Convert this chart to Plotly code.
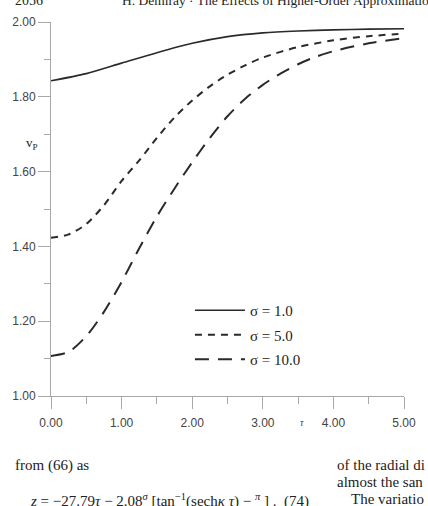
import plotly.graph_objects as go

# ---- data ----
tau_1 = [0.0, 0.5, 1.0, 1.5, 2.0, 2.5, 3.0, 3.5, 4.0, 4.5, 5.0]
vp_1 = [1.843, 1.862, 1.890, 1.918, 1.943, 1.961, 1.971, 1.976, 1.979, 1.981, 1.982]

tau_5 = [0.0, 0.25, 0.5, 0.75, 1.0, 1.25, 1.5, 1.75, 2.0, 2.25, 2.5, 2.75, 3.0, 3.5, 4.0, 4.5, 5.0]
vp_5 = [1.423, 1.432, 1.460, 1.510, 1.575, 1.630, 1.690, 1.745, 1.790, 1.828, 1.859, 1.884, 1.905,
        1.933, 1.951, 1.962, 1.969]

tau_10 = [0.0, 0.25, 0.5, 0.75, 1.0, 1.25, 1.5, 1.75, 2.0, 2.25, 2.5, 2.75, 3.0, 3.25, 3.5, 3.75,
          4.0, 4.5, 5.0]
vp_10 = [1.107, 1.118, 1.160, 1.225, 1.305, 1.395, 1.480, 1.555, 1.625, 1.690, 1.748, 1.795, 1.832,
         1.862, 1.887, 1.907, 1.922, 1.943, 1.957]

legend_names = ["σ = 1.0", "σ = 5.0", "σ = 10.0"]
x_ticks = [0, 1, 2, 3, 4, 5]
y_ticks = [1.0, 1.2, 1.4, 1.6, 1.8, 2.0]

W, H = 428, 506
L, R, T, B = 40, 12, 22, 110
PW, PH = W - L - R, H - T - B


def px(x):
    return (x - L) / PW


def py(y):
    return (H - B - y) / PH


INK = "#2a2a2a"
fig = go.Figure()
fig.add_trace(go.Scatter(x=tau_1, y=vp_1, mode="lines", name=legend_names[0], legendgroup="a",
                         line=dict(color=INK, width=1.6, shape="spline", smoothing=0.8)))
fig.add_trace(go.Scatter(x=tau_5, y=vp_5, mode="lines", name=legend_names[1], legendgroup="b",
                         line=dict(color=INK, width=2.0, dash="7px,6px", shape="spline", smoothing=0.8)))
fig.add_trace(go.Scatter(x=tau_10, y=vp_10, mode="lines", name=legend_names[2], legendgroup="c",
                         line=dict(color=INK, width=2.0, dash="14px,9px", shape="spline", smoothing=0.8)))

axis_common = dict(showgrid=False, zeroline=False, showline=True, linecolor="#a8a8a8", linewidth=1,
                   ticks="outside", tickcolor="#a8a8a8", tickwidth=1, ticklen=12,
                   ticklabeloverflow="allow",
                   tickfont=dict(family="Liberation Sans, Arial", size=12, color="#444"))

fig.update_xaxes(range=[0, 5], tickvals=x_ticks, tickformat=".2f", ticklabelstandoff=4,
                 minor=dict(dtick=0.5, ticks="outside", ticklen=7, tickcolor="#a8a8a8"),
                 **axis_common)
fig.update_yaxes(range=[1, 2], tickvals=y_ticks, tickformat=".2f",
                 minor=dict(dtick=0.1, ticks="outside", ticklen=6, tickcolor="#a8a8a8"),
                 **axis_common)

serif = "Liberation Serif, Times New Roman, serif"
ann = [
    dict(x=px(20), y=py(143), text="v<sub>P</sub>", font=dict(family=serif, size=13, color="#222")),
    dict(x=px(307), y=py(422), text="<i>τ</i>", font=dict(family=serif, size=10, color="#444")),
    dict(x=px(0), y=py(10), text="2056", xanchor="left", yanchor="bottom",
         font=dict(family=serif, size=14, color="#222")),
    dict(x=px(113), y=py(10), text="H. Demiray · The Effects of Higher-Order Approximations",
         xanchor="left", yanchor="bottom", font=dict(family=serif, size=13.5, color="#222")),
    dict(x=px(0), y=py(465), text="from (66) as", xanchor="left",
         font=dict(family=serif, size=15, color="#222")),
    dict(x=px(343), y=py(465), text="of the radial di", xanchor="left",
         font=dict(family=serif, size=15, color="#222")),
    dict(x=px(343), y=py(482), text="almost the san", xanchor="left",
         font=dict(family=serif, size=15, color="#222")),
    dict(x=px(357), y=py(499), text="The variatio", xanchor="left",
         font=dict(family=serif, size=15, color="#222")),
    dict(x=px(16), y=py(500),
         text="<i>z</i> = −27.79<i>τ</i> − 2.08<sup><i>σ</i></sup> [tan<sup>−1</sup>(sech<i>κ τ</i>) − <sup><i>π</i></sup> ] .  (74)",
         xanchor="left", font=dict(family=serif, size=15, color="#222")),
]
for a in ann:
    a.setdefault("xanchor", "center")
    a.setdefault("yanchor", "middle")
    a.update(xref="paper", yref="paper", showarrow=False)

fig.update_layout(
    width=W, height=H, margin=dict(l=L, r=R, t=T, b=B),
    paper_bgcolor="white", plot_bgcolor="white",
    showlegend=True,
    legend=dict(x=px(188), y=py(294), xanchor="left", yanchor="top",
                traceorder="grouped", tracegroupgap=2, itemwidth=50,
                font=dict(family=serif, size=15, color="#222"),
                bgcolor="rgba(255,255,255,0)", borderwidth=0),
    annotations=ann,
)

fig.write_html("out.html")
